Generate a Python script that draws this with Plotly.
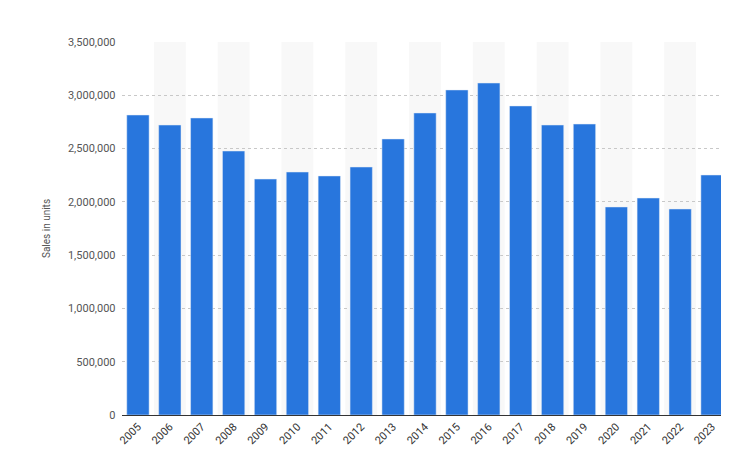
import plotly.graph_objects as go

years = [str(y) for y in range(2005, 2024)]
sales = [2815000, 2721000, 2787000, 2477000, 2214000, 2280000, 2243000, 2327000,
         2590000, 2834000, 3050000, 3115000, 2900000, 2721000, 2730000, 1952000,
         2036000, 1933000, 2252000]

fig = go.Figure(go.Bar(x=years, y=sales, marker_color='#2876dd', width=0.7))

# alternating background bands
shapes = []
for i in range(1, len(years), 2):
    shapes.append(dict(type='rect', xref='x', yref='paper', x0=i - 0.5, x1=i + 0.5,
                       y0=0, y1=1, fillcolor='#f8f8f8', line_width=0, layer='below'))

fig.update_layout(
    width=729, height=469,
    margin=dict(l=114, r=9, t=34, b=62),
    plot_bgcolor='white', paper_bgcolor='white',
    font=dict(family='Roboto, Arial', size=11, color='#555'),
    shapes=shapes,
    showlegend=False,
)
fig.update_xaxes(tickangle=-45, showline=True, linecolor='#333', linewidth=1,
                 tickfont=dict(color='#333', size=11), ticks='')
fig.update_yaxes(range=[0, 3500000], dtick=500000, tickformat=',d',
                 gridcolor='#c8c8c8', griddash='dot', zeroline=False,
                 title=dict(text='Sales in units', font=dict(size=10)),
                 ticksuffix='  ')
fig.write_html("out.html")
